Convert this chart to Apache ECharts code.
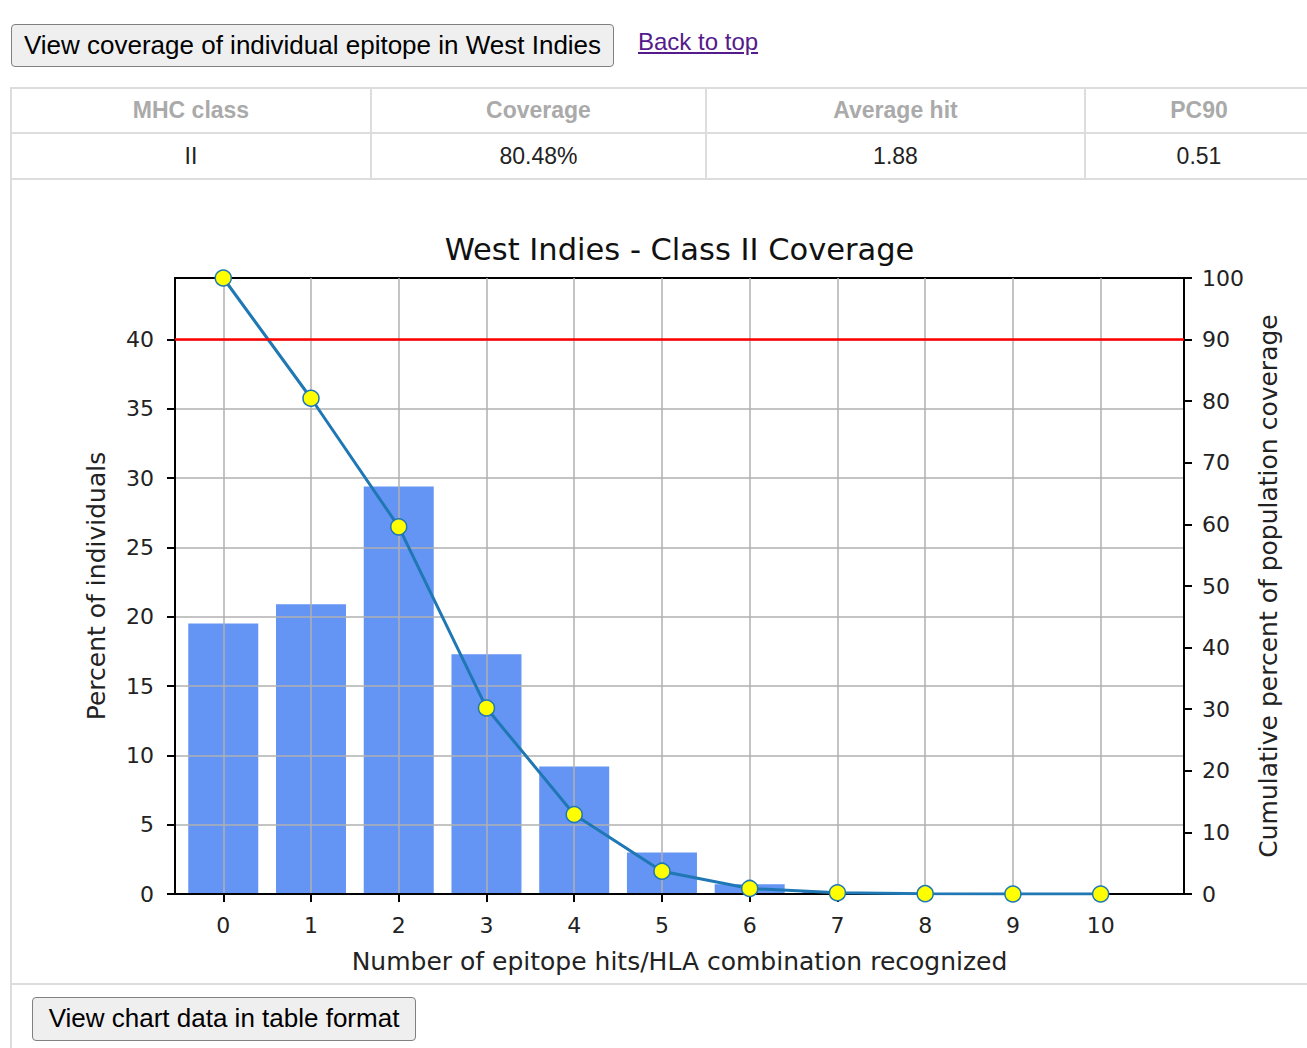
<!DOCTYPE html>
<html>
<head>
<meta charset="utf-8">
<script src="https://cdn.jsdelivr.net/npm/echarts@6/dist/echarts.min.js"></script>
<style>
  html, body { margin: 0; padding: 0; width: 1307px; height: 1048px; overflow: hidden; background: #fff; }
  body { position: relative; font-family: "Liberation Sans", Arial, Helvetica, sans-serif; }
  .btn { position: absolute; box-sizing: border-box; background: #efefef; border: 1.5px solid #808080; border-radius: 4px;
         font-size: 26px; color: #000; text-align: center; white-space: nowrap; }
  .link { position: absolute; font-size: 24px; color: #551a8b; text-decoration: underline; white-space: nowrap; }
  .hl { position: absolute; height: 2px; background: #dddddd; }
  .vl { position: absolute; width: 2px; background: #dddddd; }
  .cell { position: absolute; text-align: center; font-size: 23px; white-space: nowrap; }
  .hd { color: #aaaaaa; font-weight: bold; }
  .dt { color: #222; }
  #chart { position: absolute; left: 0; top: 0; width: 1307px; height: 1048px; }
</style>
</head>
<body>
<div class="btn" style="left:11px;top:24px;width:603px;height:43px;line-height:40px;">View coverage of individual epitope in West Indies</div>
<div class="link" style="left:638px;top:28px;">Back to top</div>

<div class="hl" style="left:10px;top:87px;width:1310px;"></div>
<div class="hl" style="left:10px;top:132px;width:1310px;"></div>
<div class="hl" style="left:10px;top:178px;width:1310px;"></div>
<div class="hl" style="left:10px;top:983px;width:1310px;"></div>
<div class="vl" style="left:10px;top:87px;height:970px;"></div>
<div class="vl" style="left:370px;top:87px;height:93px;"></div>
<div class="vl" style="left:705px;top:87px;height:93px;"></div>
<div class="vl" style="left:1084px;top:87px;height:93px;"></div>

<div class="cell hd" style="left:12px;width:358px;top:97px;">MHC class</div>
<div class="cell hd" style="left:372px;width:333px;top:97px;">Coverage</div>
<div class="cell hd" style="left:707px;width:377px;top:97px;">Average hit</div>
<div class="cell hd" style="left:1086px;width:226px;top:97px;">PC90</div>
<div class="cell dt" style="left:12px;width:358px;top:143px;">II</div>
<div class="cell dt" style="left:372px;width:333px;top:143px;">80.48%</div>
<div class="cell dt" style="left:707px;width:377px;top:143px;">1.88</div>
<div class="cell dt" style="left:1086px;width:226px;top:143px;">0.51</div>

<div class="btn" style="left:32px;top:997px;width:384px;height:44px;line-height:41px;">View chart data in table format</div>

<div id="chart"></div>
<script>
// ---- data ----
const categories = [0, 1, 2, 3, 4, 5, 6, 7, 8, 9, 10];
const percentIndividuals = [19.52, 20.9, 29.4, 17.3, 9.2, 3.0, 0.7, 0.15, 0.05, 0, 0];
const cumulativeCoverage = [100, 80.48, 59.6, 30.2, 12.9, 3.7, 0.9, 0.2, 0.05, 0, 0];
const leftTicks = [0, 5, 10, 15, 20, 25, 30, 35, 40];
const coverageThreshold = 90;
const chartTitle = 'West Indies - Class II Coverage';
const xName = 'Number of epitope hits/HLA combination recognized';
const yLeftName = 'Percent of individuals';
const yRightName = 'Cumulative percent of population coverage';

const FONT = 'DejaVu Sans';
const chart = echarts.init(document.getElementById('chart'), null, { renderer: 'svg' });

const axisLineStyle = { color: '#000', width: 2 };
const tickLabel = { fontFamily: FONT, fontSize: 22, color: '#222' };

chart.setOption({
  animation: false,
  grid: { left: 175, top: 278, width: 1009, height: 616, show: true, borderColor: '#000', borderWidth: 2, backgroundColor: 'transparent' },
  graphic: [{
    type: 'text', x: 679.5, y: 249, z: 10,
    style: { text: chartTitle, fontFamily: FONT, fontSize: 30.5, fill: '#111', textAlign: 'center', textVerticalAlign: 'middle', align: 'center', verticalAlign: 'middle' }
  }],
  xAxis: {
    type: 'value', min: -0.55, max: 10.95, z: 2,
    name: xName, nameLocation: 'middle', nameGap: 55,
    nameTextStyle: { fontFamily: FONT, fontSize: 25, color: '#222' },
    axisLine: { show: true, lineStyle: axisLineStyle },
    axisTick: { show: true, length: 8, inside: false, customValues: categories, lineStyle: { color: '#000', width: 2 } },
    axisLabel: Object.assign({ margin: 20, customValues: categories }, tickLabel),
    splitLine: { show: true, lineStyle: { color: '#b0b0b0', width: 1.5 } }
  },
  yAxis: [{
    type: 'value', min: 0, max: 40 / 0.9, position: 'left', z: 2,
    name: yLeftName, nameLocation: 'middle', nameGap: 66, nameRotate: 90,
    nameTextStyle: { fontFamily: FONT, fontSize: 25, color: '#222' },
    axisLine: { show: true, onZero: false, lineStyle: axisLineStyle },
    axisTick: { show: true, length: 8, customValues: leftTicks, lineStyle: { color: '#000', width: 2 } },
    axisLabel: Object.assign({ margin: 21, customValues: leftTicks }, tickLabel),
    splitLine: { show: true, lineStyle: { color: '#b0b0b0', width: 1.5 } }
  }, {
    type: 'value', min: 0, max: 100, interval: 10, position: 'right', z: 2,
    name: yRightName, nameLocation: 'middle', nameGap: 72, nameRotate: 90,
    nameTextStyle: { fontFamily: FONT, fontSize: 25, color: '#222' },
    axisLine: { show: true, onZero: false, lineStyle: axisLineStyle },
    axisTick: { show: true, length: 8, lineStyle: { color: '#000', width: 2 } },
    axisLabel: Object.assign({ margin: 18 }, tickLabel),
    splitLine: { show: false }
  }],
  series: [{
    type: 'bar', z: 1, xAxisIndex: 0, yAxisIndex: 0,
    data: categories.map((c, i) => [c, percentIndividuals[i]]),
    barWidth: 70,
    itemStyle: { color: '#6495F5' }
  }, {
    type: 'line', z: 3, xAxisIndex: 0, yAxisIndex: 1,
    data: categories.map((c, i) => [c, cumulativeCoverage[i]]),
    lineStyle: { color: '#1f77b4', width: 3 },
    symbol: 'circle', symbolSize: 16,
    itemStyle: { color: '#ffff00', borderColor: '#1f77b4', borderWidth: 1.5 },
    markLine: {
      silent: true, symbol: ['none', 'none'], label: { show: false },
      lineStyle: { color: '#ff0000', width: 2.5, type: 'solid' },
      data: [{ yAxis: coverageThreshold }]
    }
  }]
});
</script>
</body>
</html>
